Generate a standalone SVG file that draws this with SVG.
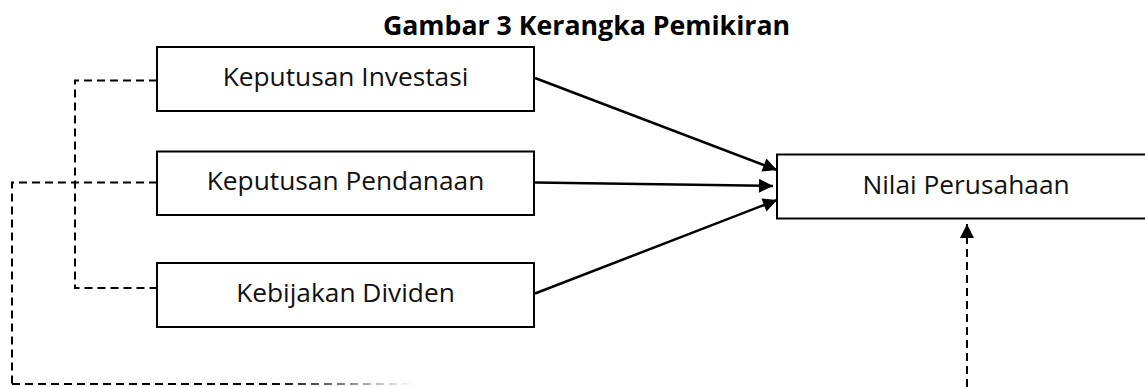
<svg xmlns="http://www.w3.org/2000/svg" width="1145" height="387" viewBox="0 0 1145 387">
<style>
.box{fill:#fff;stroke:#000;stroke-width:2}
.lbl{font-family:"Open Sans","Noto Sans",sans-serif;font-size:26.3px;fill:#111;text-anchor:middle}
.title{font-family:"Open Sans","Noto Sans",sans-serif;font-size:26.7px;font-weight:bold;fill:#000;text-anchor:middle}
.arr{fill:none;stroke:#000;stroke-width:2.5}
.dash{fill:none;stroke:#000;stroke-width:2;stroke-dasharray:8 5}
</style>
<defs>
<marker id="ah" viewBox="0 0 10 10" refX="10" refY="5" markerWidth="16" markerHeight="14" markerUnits="userSpaceOnUse" orient="auto">
<path d="M0,0 L10,5 L0,10 Z" fill="#000"/>
</marker>
<linearGradient id="fade" gradientUnits="userSpaceOnUse" x1="270" y1="0" x2="415" y2="0">
<stop offset="0" stop-color="#000" stop-opacity="1"/>
<stop offset="1" stop-color="#000" stop-opacity="0"/>
</linearGradient>
</defs>
<text class="title" x="586.5" y="35">Gambar 3 Kerangka Pemikiran</text>
<g id="connectors">
<path class="dash" d="M157,80.5 H75 V288 H157"/>
<path class="dash" d="M157,182.5 H12 V384"/>
<path d="M12,384 H415" fill="none" stroke="url(#fade)" stroke-width="2" stroke-dasharray="8 5"/>
<path class="dash" d="M967,387 V224" marker-end="url(#ah)"/>
<line class="arr" x1="535" y1="78" x2="777" y2="170" marker-end="url(#ah)"/>
<line class="arr" x1="535" y1="182.5" x2="773" y2="186" marker-end="url(#ah)"/>
<line class="arr" x1="535" y1="293.5" x2="777" y2="200" marker-end="url(#ah)"/>
</g>
<g id="node-investasi">
<rect class="box" x="157" y="47" width="377" height="64"/>
<text class="lbl" x="345.5" y="86">Keputusan Investasi</text>
</g>
<g id="node-pendanaan">
<rect class="box" x="157" y="151.5" width="377" height="63.5"/>
<text class="lbl" x="345.5" y="190">Keputusan Pendanaan</text>
</g>
<g id="node-dividen">
<rect class="box" x="157" y="263" width="377" height="64"/>
<text class="lbl" x="345.5" y="302">Kebijakan Dividen</text>
</g>
<g id="node-nilai">
<rect class="box" x="777" y="154.5" width="379" height="64"/>
<text class="lbl" x="966" y="193.5">Nilai Perusahaan</text>
</g>
</svg>
